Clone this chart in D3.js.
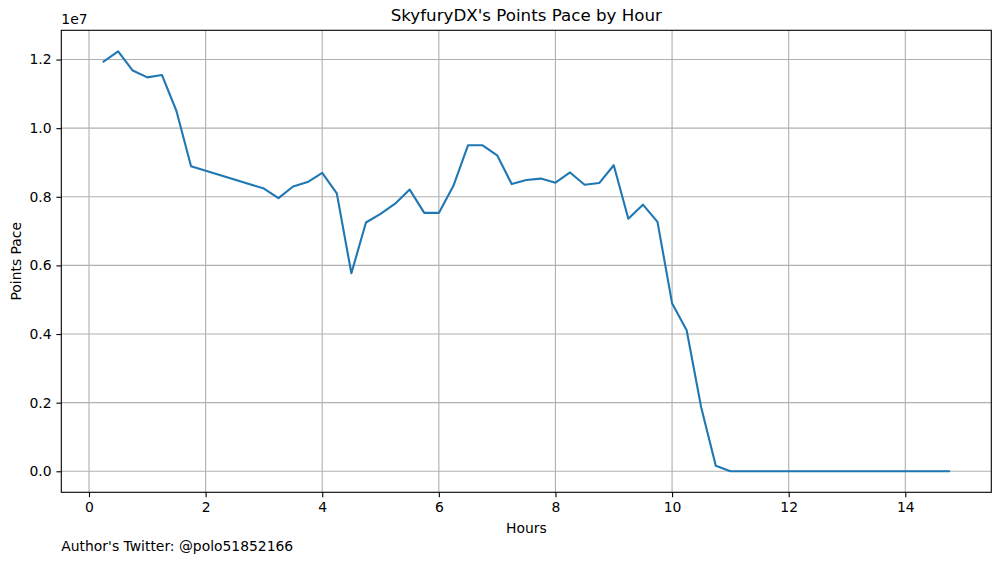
<!DOCTYPE html>
<html>
<head>
<meta charset="utf-8">
<script src="https://cdn.jsdelivr.net/npm/d3@7"></script>
<style>
  body { margin: 0; background: #fff; }
  svg { display: block; font-family: "DejaVu Sans", sans-serif; }
</style>
</head>
<body>
<svg id="chart"></svg>
<script>
// hours since start (15 min steps, gap between 1.75 and 3.0)
const hours = [0.25, 0.5, 0.75, 1.0, 1.25, 1.5, 1.75, 3.0, 3.25, 3.5, 3.75, 4.0,
  4.25, 4.5, 4.75, 5.0, 5.25, 5.5, 5.75, 6.0, 6.25, 6.5, 6.75, 7.0, 7.25, 7.5,
  7.75, 8.0, 8.25, 8.5, 8.75, 9.0, 9.25, 9.5, 9.75, 10.0, 10.25, 10.5, 10.75,
  11.0, 11.25, 11.5, 11.75, 12.0, 12.25, 12.5, 12.75, 13.0, 13.25, 13.5, 13.75,
  14.0, 14.25, 14.5, 14.75];

// points pace, in units of 1e7
const pace = [1.194, 1.224, 1.168, 1.148, 1.155, 1.050, 0.889, 0.824, 0.796, 0.830,
  0.843, 0.870, 0.810, 0.577, 0.725, 0.750, 0.780, 0.821, 0.753, 0.753, 0.832,
  0.950, 0.950, 0.921, 0.837, 0.849, 0.853, 0.841, 0.871, 0.835, 0.840, 0.892,
  0.736, 0.777, 0.727, 0.490, 0.411, 0.186, 0.016, 0, 0, 0, 0, 0, 0, 0, 0, 0,
  0, 0, 0, 0, 0, 0, 0];

const xTicks = [0, 2, 4, 6, 8, 10, 12, 14];
const yTicks = [0.0, 0.2, 0.4, 0.6, 0.8, 1.0, 1.2];

const titleText = "SkyfuryDX's Points Pace by Hour";
const xLabel = "Hours";
const yLabel = "Points Pace";
const credit = "Author's Twitter: @polo51852166";

const width = 1001, height = 562;
const margin = { top: 30.3, right: 9.7, bottom: 69.7, left: 61.3 };

const svg = d3.select("#chart").attr("width", width).attr("height", height);

const data = hours.map((h, i) => ({ h, v: pace[i] }));

// matplotlib style 5% padding
const xExt = d3.extent(hours), yExt = d3.extent(pace);
const xPad = (xExt[1] - xExt[0]) * 0.05, yPad = (yExt[1] - yExt[0]) * 0.05;

const x = d3.scaleLinear()
  .domain([xExt[0] - xPad, xExt[1] + xPad])
  .range([margin.left, width - margin.right]);
const y = d3.scaleLinear()
  .domain([yExt[0] - yPad, yExt[1] + yPad])
  .range([height - margin.bottom, margin.top]);

const plotW = width - margin.left - margin.right;
const plotH = height - margin.top - margin.bottom;

// grid
svg.append("g").selectAll("line").data(xTicks).enter().append("line")
  .attr("x1", d => x(d)).attr("x2", d => x(d))
  .attr("y1", margin.top).attr("y2", margin.top + plotH)
  .attr("stroke", "#b0b0b0").attr("stroke-width", 1.1);
svg.append("g").selectAll("line").data(yTicks).enter().append("line")
  .attr("y1", d => y(d)).attr("y2", d => y(d))
  .attr("x1", margin.left).attr("x2", margin.left + plotW)
  .attr("stroke", "#b0b0b0").attr("stroke-width", 1.1);

// line
const line = d3.line().x(d => x(d.h)).y(d => y(d.v));
svg.append("path").datum(data)
  .attr("d", line)
  .attr("fill", "none")
  .attr("stroke", "#1f77b4")
  .attr("stroke-width", 2.1)
  .attr("stroke-linejoin", "round")
  .attr("stroke-linecap", "square");

// axes
const xAxis = d3.axisBottom(x).tickValues(xTicks).tickFormat(d3.format("d"))
  .tickSize(4.9).tickPadding(4.9).tickSizeOuter(0);
const yAxis = d3.axisLeft(y).tickValues(yTicks).tickFormat(d3.format(".1f"))
  .tickSize(4.9).tickPadding(4.9).tickSizeOuter(0);

const gx = svg.append("g")
  .attr("transform", `translate(0,${margin.top + plotH})`).call(xAxis);
const gy = svg.append("g")
  .attr("transform", `translate(${margin.left},0)`).call(yAxis);

[gx, gy].forEach(g => {
  g.select(".domain").remove();
  g.selectAll(".tick line").attr("stroke", "#000").attr("stroke-width", 1.1);
  g.selectAll(".tick text").attr("fill", "#000")
    .style("font-size", "13.9px").style("font-family", "DejaVu Sans, sans-serif");
});

// frame
svg.append("rect")
  .attr("x", margin.left).attr("y", margin.top)
  .attr("width", plotW).attr("height", plotH)
  .attr("fill", "none").attr("stroke", "#000").attr("stroke-width", 1.1);

// texts
svg.append("text").attr("x", margin.left).attr("y", margin.top - 6)
  .style("font-size", "13.9px").text("1e7");

svg.append("text").attr("x", margin.left + plotW / 2).attr("y", margin.top - 9)
  .attr("text-anchor", "middle").style("font-size", "16.7px").text(titleText);

svg.append("text").attr("x", margin.left + plotW / 2).attr("y", 533)
  .attr("text-anchor", "middle").style("font-size", "13.9px").text(xLabel);

svg.append("text")
  .attr("transform", `translate(21,${margin.top + plotH / 2}) rotate(-90)`)
  .attr("text-anchor", "middle").style("font-size", "13.9px").text(yLabel);

svg.append("text").attr("x", margin.left).attr("y", 551)
  .style("font-size", "13.9px").text(credit);
</script>
</body>
</html>
